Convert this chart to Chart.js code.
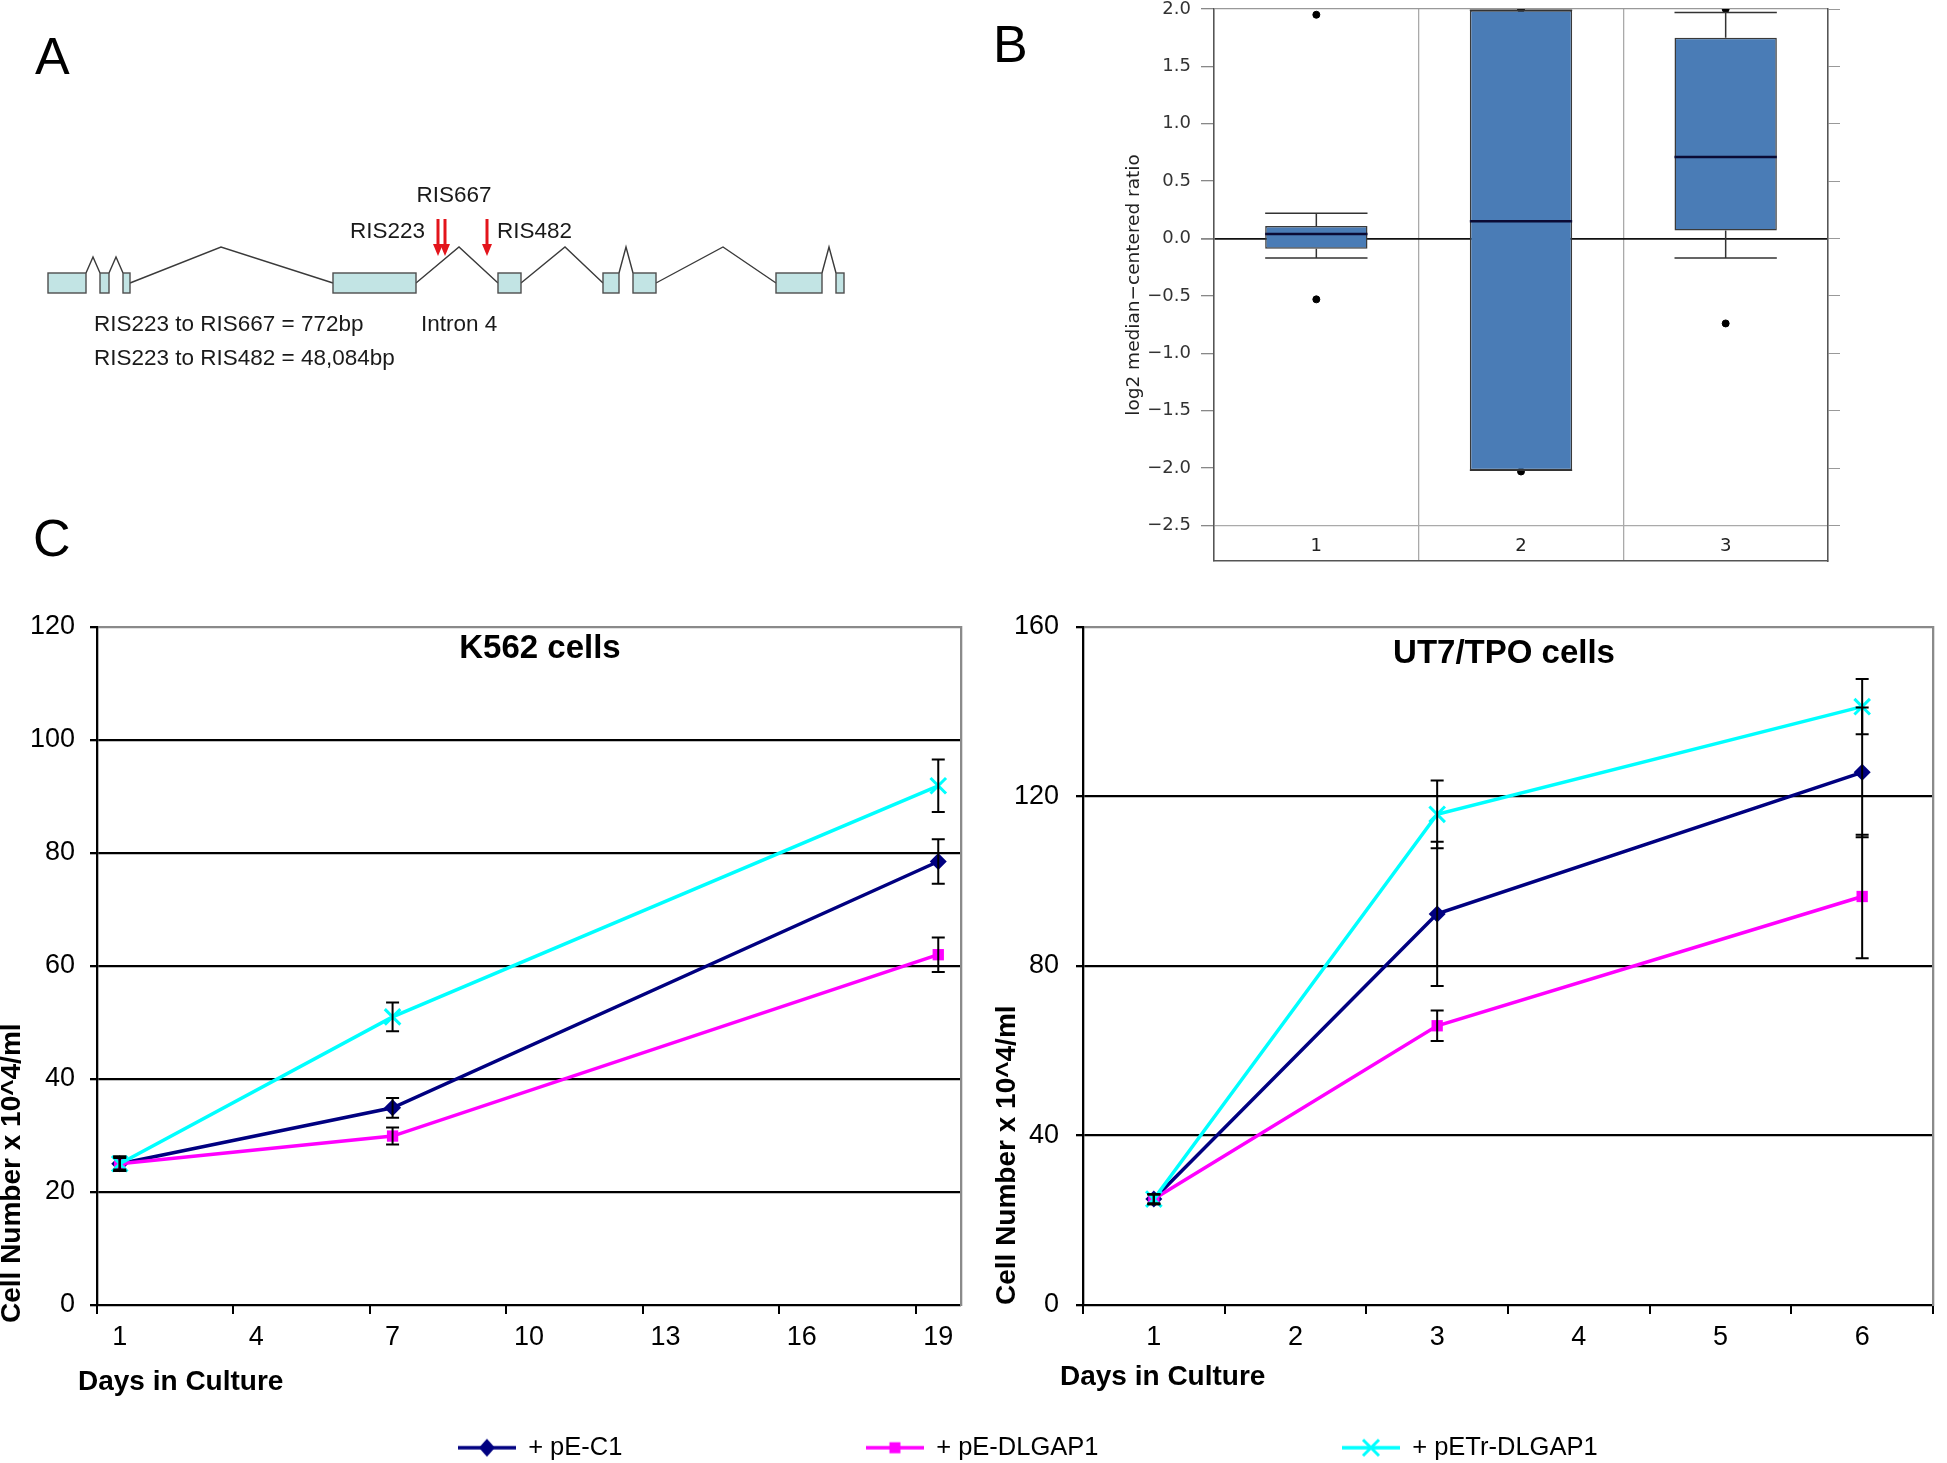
<!DOCTYPE html>
<html lang="en">
<head>
<meta charset="UTF-8" />
<title>DLGAP1 figure</title>
<script src="https://cdn.jsdelivr.net/npm/chart.js"></script>
<style>
  body { margin: 0; width: 1947px; height: 1463px; position: relative; background: #fff; overflow: hidden;
         font-family: 'Liberation Sans', Arial, sans-serif; }
  canvas, .tag { position: absolute; }
  .tag { font-size: 52px; line-height: 1; color: #000; }
</style>
</head>
<body>
<canvas id="legendChart" style="left:110px;top:1191px" width="1836" height="272"></canvas>
<div class="tag" style="left:35px;top:30px">A</div>
<div class="tag" style="left:993px;top:18px">B</div>
<div class="tag" style="left:33px;top:512px">C</div>
<canvas id="geneMap" style="left:0;top:150px" width="880" height="250"></canvas>
<canvas id="boxChart" style="left:1110px;top:0" width="760" height="575"></canvas>
<canvas id="k562Chart" style="left:0;top:600px" width="975" height="810"></canvas>
<canvas id="ut7Chart" style="left:985px;top:600px" width="962" height="810"></canvas>

<script>
// ---- panel A: gene structure (diagram units) ----
const exonStart = [48, 100, 123, 333, 498, 603, 633, 776, 836];
const exonEnd = [86, 109, 130, 416, 521, 619, 656, 822, 844];
const intronPeakX = [93, 116, 221, 459, 565, 626, 723, 829];
const intronPeakY = [1.8, 1.8, 2.3, 2.3, 2.3, 2.3, 2.3, 2.3];
const risNames = ['RIS223', 'RIS667', 'RIS482'];
const risPos = [438, 445, 487];

// ---- panel B: box plot, log2 median-centered ratio ----
const boxGroups = ['1', '2', '3'];
const boxQ1 = [-0.09, -2.02, 0.07];
const boxQ3 = [0.11, 1.99, 1.75];
const boxMedian = [0.04, 0.15, 0.71];
const whiskerLow = [-0.17, -2.02, -0.17];
const whiskerHigh = [0.22, 1.99, 1.97];
const outlierGroup = ['1', '1', '2', '2', '3', '3'];
const outlierValue = [1.95, -0.53, 2.0, -2.03, 2.0, -0.74];

// ---- panel C: growth curves ----
const seriesNames = ['+ pE-C1', '+ pE-DLGAP1', '+ pETr-DLGAP1'];

const k562Days = ['1', '2', '3', '4', '5', '6', '7', '8', '9', '10', '11', '12', '13', '14', '15', '16', '17', '18', '19'];
const k562SampleDays = ['1', '7', '19'];
const k562PEC1 = [25, 34.9, 78.5];
const k562PEC1Err = [1.3, 1.75, 3.95];
const k562PEDLGAP1 = [25, 29.9, 62];
const k562PEDLGAP1Err = [1.0, 1.5, 3.05];
const k562PETr = [25, 51, 91.9];
const k562PETrErr = [1.3, 2.55, 4.65];

const ut7Days = ['1', '2', '3', '4', '5', '6'];
const ut7SampleDays = ['1', '3', '6'];
const ut7PEC1 = [25, 92.3, 125.7];
const ut7PEC1Err = [1.2, 17, 15.3];
const ut7PEDLGAP1 = [25, 65.9, 96.4];
const ut7PEDLGAP1Err = [1.0, 3.6, 14.6];
const ut7PETr = [25, 115.8, 141.2];
const ut7PETrErr = [1.2, 8, 6.5];

const FONT = "'Liberation Sans', Arial, sans-serif";
const DJV = "'DejaVu Sans', sans-serif";
Chart.defaults.font.family = FONT;
Chart.defaults.color = '#000';
Chart.defaults.animation = false;
Chart.defaults.plugins.legend.display = false;
Chart.defaults.plugins.tooltip.enabled = false;

const NAVY = '#000080', MAGENTA = '#ff00ff', CYAN = '#00ffff';

// ---------- panel A ----------
const genePlugin = {
  id: 'genePlugin',
  afterDatasetsDraw(chart, args, opts) {
    const { ctx } = chart;
    const x = chart.scales.x, y = chart.scales.y;
    ctx.save();
    // exons
    ctx.fillStyle = '#c2e4e4';
    ctx.strokeStyle = '#4d4d4d';
    ctx.lineWidth = 1.4;
    exonStart.forEach((s, i) => {
      const x0 = x.getPixelForValue(s), x1 = x.getPixelForValue(exonEnd[i]);
      const y0 = y.getPixelForValue(1), y1 = y.getPixelForValue(0);
      ctx.fillRect(x0, y0, x1 - x0, y1 - y0);
      ctx.strokeRect(x0, y0, x1 - x0, y1 - y0);
    });
    // insertion arrows
    ctx.strokeStyle = '#e3141b';
    ctx.fillStyle = '#e3141b';
    risPos.forEach(p => {
      const px = x.getPixelForValue(p);
      const top = y.getPixelForValue(3.7), neck = y.getPixelForValue(2.45), tip = y.getPixelForValue(1.85);
      ctx.lineWidth = 3;
      ctx.beginPath(); ctx.moveTo(px, top); ctx.lineTo(px, neck); ctx.stroke();
      ctx.beginPath(); ctx.moveTo(px - 5, neck); ctx.lineTo(px + 5, neck); ctx.lineTo(px, tip); ctx.closePath(); ctx.fill();
    });
    // labels
    ctx.fillStyle = '#1a1a1a';
    ctx.font = '22.5px ' + FONT;
    ctx.textBaseline = 'middle';
    opts.labels.forEach(l => {
      ctx.textAlign = l.align;
      ctx.fillText(l.text, x.getPixelForValue(l.x), y.getPixelForValue(l.y));
    });
    ctx.restore();
  }
};

const intronSets = intronPeakX.map((px, i) => {
  const join = exonStart[i + 1] - exonEnd[i] < 20 ? 1 : 0.5;
  return {
    data: [{ x: exonEnd[i], y: join }, { x: px, y: intronPeakY[i] }, { x: exonStart[i + 1], y: join }],
    showLine: true, borderColor: '#3a3a3a', borderWidth: 1.4, pointRadius: 0
  };
});

new Chart(document.getElementById('geneMap'), {
  type: 'scatter',
  data: { datasets: intronSets },
  options: {
    responsive: false,
    layout: { padding: 0 },
    scales: {
      x: { type: 'linear', display: false, min: 0, max: 880 },
      y: { display: false, min: -5.35, max: 7.15 }
    },
    plugins: {
      genePlugin: {
        labels: [
          { text: risNames[1], x: 454, y: 4.85, align: 'center' },
          { text: risNames[0], x: 425, y: 3.05, align: 'right' },
          { text: risNames[2], x: 497, y: 3.05, align: 'left' },
          { text: 'Intron 4', x: 421, y: -1.6, align: 'left' },
          { text: 'RIS223 to RIS667 = 772bp', x: 94, y: -1.6, align: 'left' },
          { text: 'RIS223 to RIS482 = 48,084bp', x: 94, y: -3.3, align: 'left' }
        ]
      }
    }
  },
  plugins: [genePlugin]
});

// ---------- panel B ----------
const boxWhiskers = {
  id: 'boxWhiskers',
  afterDatasetsDraw(chart) {
    const { ctx } = chart;
    const y = chart.scales.y;
    const meta = chart.getDatasetMeta(0);
    ctx.save();
    meta.data.forEach((bar, i) => {
      const half = bar.width / 2, cx = bar.x;
      ctx.strokeStyle = '#333';
      ctx.lineWidth = 1.5;
      ctx.beginPath();
      ctx.moveTo(cx, y.getPixelForValue(boxQ3[i])); ctx.lineTo(cx, y.getPixelForValue(whiskerHigh[i]));
      ctx.moveTo(cx - half, y.getPixelForValue(whiskerHigh[i])); ctx.lineTo(cx + half, y.getPixelForValue(whiskerHigh[i]));
      ctx.moveTo(cx, y.getPixelForValue(boxQ1[i])); ctx.lineTo(cx, y.getPixelForValue(whiskerLow[i]));
      ctx.moveTo(cx - half, y.getPixelForValue(whiskerLow[i])); ctx.lineTo(cx + half, y.getPixelForValue(whiskerLow[i]));
      ctx.stroke();
      ctx.strokeStyle = '#0b0b35';
      ctx.lineWidth = 2.5;
      ctx.beginPath();
      ctx.moveTo(cx - half, y.getPixelForValue(boxMedian[i])); ctx.lineTo(cx + half, y.getPixelForValue(boxMedian[i]));
      ctx.stroke();
    });
    ctx.restore();
  }
};

// category names written into the strip under the -2.5 line
const groupLabels = {
  id: 'groupLabels',
  afterDraw(chart) {
    const { ctx, chartArea } = chart;
    const x = chart.scales.x;
    ctx.save();
    ctx.font = '18px ' + DJV;
    ctx.fillStyle = '#222';
    ctx.textAlign = 'center';
    ctx.textBaseline = 'middle';
    x.getLabels().forEach((l, i) => ctx.fillText(l, x.getPixelForValue(i), chartArea.bottom - 15));
    ctx.restore();
  }
};

const bFont = { family: DJV, size: 18 };
const bTick = v => (v < 0 ? '\u2212' : '') + Math.abs(v).toFixed(1);

new Chart(document.getElementById('boxChart'), {
  type: 'bar',
  data: {
    labels: boxGroups,
    datasets: [
      {
        data: boxGroups.map((g, i) => [boxQ1[i], boxQ3[i]]),
        backgroundColor: '#4a7cb6', borderColor: '#3a3a3a', borderWidth: 1.5, borderSkipped: false,
        barPercentage: 0.5, categoryPercentage: 1
      },
      {
        type: 'line',
        data: outlierGroup.map((g, i) => ({ x: g, y: outlierValue[i] })),
        showLine: false, pointRadius: 3.5, pointBackgroundColor: '#000', pointBorderColor: '#000'
      }
    ]
  },
  options: {
    responsive: false,
    layout: { padding: { top: 9 } },
    scales: {
      x: {
        type: 'category', offset: true,
        grid: { offset: true, color: '#aaa', lineWidth: 1.3, drawTicks: false },
        border: { color: '#555', width: 1.5 },
        ticks: { display: false },
        afterFit: s => { s.height = 14; }
      },
      y: {
        min: -2.81, max: 2.0,
        ticks: { stepSize: 0.5, includeBounds: false, font: bFont, color: '#333', padding: 10, callback: bTick },
        grid: {
          color: c => c.tick.value === 0 ? '#111' : c.tick.value === -2.5 ? '#aaa' : c.tick.value === 2 ? '#999' : 'rgba(0,0,0,0)',
          lineWidth: c => c.tick.value === 0 ? 1.8 : 1.3,
          tickColor: '#888', tickLength: 13
        },
        border: { color: '#555', width: 1.5 },
        title: { display: true, text: 'log2 median\u2212centered ratio', font: { family: DJV, size: 18.5 }, color: '#222',
                 padding: { top: 13, bottom: 0 } },
        afterFit: s => { s.width = 104; s.paddingTop = 0; s.paddingBottom = 0; }
      },
      y2: {
        position: 'right', min: -2.81, max: 2.0,
        ticks: { display: false, stepSize: 0.5, includeBounds: false },
        grid: { drawOnChartArea: false, tickColor: '#999', tickLength: 12 },
        border: { color: '#555', width: 1.5 },
        afterFit: s => { s.width = 42; s.paddingTop = 0; s.paddingBottom = 0; }
      }
    }
  },
  plugins: [boxWhiskers, groupLabels]
});

// ---------- panel C ----------
const errorBars = {
  id: 'errorBars',
  afterDatasetsDraw(chart) {
    const { ctx } = chart;
    const y = chart.scales.y;
    ctx.save();
    ctx.strokeStyle = '#000';
    ctx.lineWidth = 2;
    chart.data.datasets.forEach((ds, di) => {
      if (!ds.errors) return;
      chart.getDatasetMeta(di).data.forEach((pt, i) => {
        const v = ds.data[i].y, e = ds.errors[i];
        const top = y.getPixelForValue(v + e), bot = y.getPixelForValue(v - e);
        ctx.beginPath();
        ctx.moveTo(pt.x, top); ctx.lineTo(pt.x, bot);
        ctx.moveTo(pt.x - 6.5, top); ctx.lineTo(pt.x + 6.5, top);
        ctx.moveTo(pt.x - 6.5, bot); ctx.lineTo(pt.x + 6.5, bot);
        ctx.stroke();
      });
    });
    ctx.restore();
  }
};

// chart title inside the plot box and the axis titles, placed relative to the chart area
const captions = {
  id: 'captions',
  afterDraw(chart, args, opts) {
    const { ctx, chartArea } = chart;
    opts.items.forEach(c => {
      ctx.save();
      ctx.font = c.font;
      ctx.fillStyle = '#000';
      ctx.textAlign = c.align;
      ctx.textBaseline = 'middle';
      ctx.translate(chartArea.left + c.x, chartArea.top + c.y);
      if (c.rotate) ctx.rotate(c.rotate * Math.PI / 180);
      ctx.fillText(c.text, 0, 0);
      ctx.restore();
    });
  }
};

function growthSets(days, a, aErr, b, bErr, c, cErr) {
  const pts = vals => days.map((d, i) => ({ x: d, y: vals[i] }));
  return [
    { label: seriesNames[0], data: pts(a), errors: aErr, borderColor: NAVY, backgroundColor: NAVY, borderWidth: 3.5,
      pointStyle: 'rectRot', pointRadius: 8.5, pointBorderWidth: 0, order: 3 },
    { label: seriesNames[1], data: pts(b), errors: bErr, borderColor: MAGENTA, backgroundColor: MAGENTA, borderWidth: 3.5,
      pointStyle: 'rect', pointRadius: 8, pointBorderWidth: 0, order: 2 },
    { label: seriesNames[2], data: pts(c), errors: cErr, borderColor: CYAN, backgroundColor: CYAN, borderWidth: 3.5,
      pointStyle: 'crossRot', pointRadius: 11, pointBorderWidth: 3, pointBorderColor: CYAN, order: 1 }
  ];
}

function growthOptions(o) {
  return {
    responsive: false,
    layout: { padding: { top: 27 } },
    scales: {
      x: {
        type: 'category', labels: o.days, offset: true,
        grid: { offset: true, drawOnChartArea: false, lineWidth: 2, tickLength: 9,
                tickColor: c => o.tickEvery && c.index % o.tickEvery !== 0 ? 'rgba(0,0,0,0)' : '#000' },
        border: { color: '#000', width: 2 },
        ticks: { autoSkip: false, maxRotation: 0, padding: 7, font: { size: 27 },
                 callback: (v, i) => (!o.tickEvery || i % o.tickEvery === 0) ? o.days[i] : '' },
        afterFit: s => { s.height = 105; }
      },
      y: {
        min: 0, max: o.max,
        ticks: { stepSize: o.step, font: { size: 27 }, padding: o.yTickPad },
        grid: { color: c => c.tick.value === o.max ? '#8a8a8a' : '#000', lineWidth: 2.3, tickLength: 7, tickColor: '#000' },
        border: { color: '#000', width: 2.3 },
        afterFit: s => { s.width = o.yWidth; s.paddingTop = 0; s.paddingBottom = 0; }
      },
      yR: {
        position: 'right', min: 0, max: o.max,
        ticks: { display: false },
        grid: { drawOnChartArea: false, drawTicks: false },
        border: { color: '#8a8a8a', width: 2.3 },
        afterFit: s => { s.width = o.rWidth; s.paddingTop = 0; s.paddingBottom = 0; }
      }
    },
    plugins: {
      captions: {
        items: [
          { text: o.title, font: 'bold 33px ' + FONT, align: 'center', x: o.titleX, y: o.titleY },
          { text: 'Days in Culture', font: 'bold 28px ' + FONT, align: 'left', x: o.xTitleX, y: o.xTitleY },
          { text: 'Cell Number x 10^4/ml', font: 'bold 28px ' + FONT, align: 'left', x: o.yTitleX, y: o.yTitleY, rotate: -90 }
        ]
      }
    }
  };
}

new Chart(document.getElementById('k562Chart'), {
  type: 'line',
  data: { datasets: growthSets(k562SampleDays, k562PEC1, k562PEC1Err, k562PEDLGAP1, k562PEDLGAP1Err, k562PETr, k562PETrErr) },
  options: growthOptions({ days: k562Days, tickEvery: 3, max: 120, step: 20, yWidth: 97, rWidth: 13, yTickPad: 15,
                           title: 'K562 cells', titleX: 443, titleY: 22,
                           xTitleX: -19, xTitleY: 755, yTitleX: -85, yTitleY: 696 }),
  plugins: [errorBars, captions]
});

new Chart(document.getElementById('ut7Chart'), {
  type: 'line',
  data: { datasets: growthSets(ut7SampleDays, ut7PEC1, ut7PEC1Err, ut7PEDLGAP1, ut7PEDLGAP1Err, ut7PETr, ut7PETrErr) },
  options: growthOptions({ days: ut7Days, tickEvery: 0, max: 160, step: 40, yWidth: 98, rWidth: 4, yTickPad: 17,
                           title: 'UT7/TPO cells', titleX: 421, titleY: 27,
                           xTitleX: -23, xTitleY: 750, yTitleX: -76, yTitleY: 678 }),
  plugins: [errorBars, captions]
});

// ---------- shared legend ----------
function legendGlyph(color, kind) {
  const c = document.createElement('canvas');
  c.width = 58; c.height = 26;
  const g = c.getContext('2d');
  g.strokeStyle = color; g.fillStyle = color; g.lineWidth = 3.5;
  g.beginPath(); g.moveTo(0, 13); g.lineTo(58, 13); g.stroke();
  if (kind === 'diamond') {
    g.beginPath(); g.moveTo(29, 4); g.lineTo(37, 13); g.lineTo(29, 22); g.lineTo(21, 13); g.closePath(); g.fill();
  } else if (kind === 'square') {
    g.fillRect(23.5, 7.5, 11, 11);
  } else {
    g.lineWidth = 3;
    g.beginPath(); g.moveTo(21, 5); g.lineTo(37, 21); g.moveTo(37, 5); g.lineTo(21, 21); g.stroke();
  }
  return c;
}

new Chart(document.getElementById('legendChart'), {
  type: 'line',
  data: {
    datasets: [
      { label: seriesNames[0], data: [], borderColor: NAVY, pointStyle: legendGlyph(NAVY, 'diamond') },
      { label: seriesNames[1], data: [], borderColor: MAGENTA, pointStyle: legendGlyph(MAGENTA, 'square') },
      { label: seriesNames[2], data: [], borderColor: CYAN, pointStyle: legendGlyph(CYAN, 'cross') }
    ]
  },
  options: {
    responsive: false,
    scales: { x: { display: false }, y: { display: false } },
    plugins: {
      legend: {
        display: true, position: 'top', maxHeight: 1000,
        labels: { usePointStyle: true, pointStyleWidth: 57, padding: 244, color: '#000', font: { size: 25.5 } }
      }
    }
  }
});
</script>
</body>
</html>
